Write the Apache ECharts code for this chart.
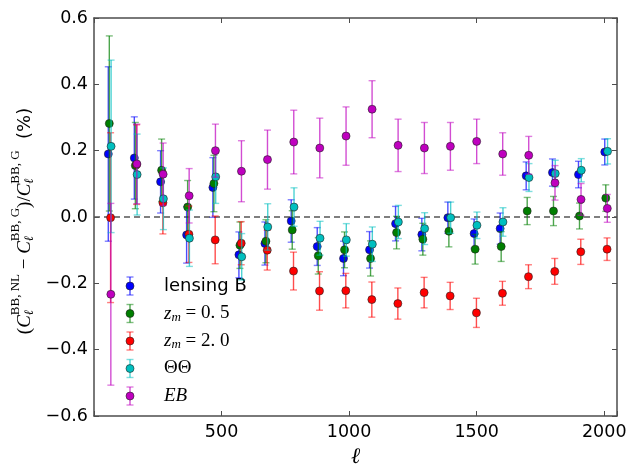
<!DOCTYPE html>
<html><head><meta charset="utf-8">
<script src="https://cdn.jsdelivr.net/npm/echarts@6/dist/echarts.min.js"></script>
<style>html,body{margin:0;padding:0;background:#fff}#c{width:639px;height:473px}</style>
</head><body><div id="c"></div>
<script>
// multipole bin centres (ℓ)
const ell = [56, 158, 261, 363, 466, 568, 670, 773, 875, 978, 1080, 1182, 1285, 1387, 1490, 1592, 1694, 1797, 1899, 2002];

// series values (%) and 1-sigma errors
const lensingB    = [0.190, 0.178, 0.106, -0.054, 0.089, -0.114, -0.080, -0.012, -0.089, -0.125, -0.099, -0.020, -0.053, -0.002, -0.050, -0.035, 0.124, 0.134, 0.128, 0.196];
const lensingBErr = [0.263, 0.124, 0.094, 0.085, 0.090, 0.069, 0.065, 0.064, 0.057, 0.052, 0.055, 0.052, 0.049, 0.047, 0.044, 0.047, 0.042, 0.041, 0.040, 0.039];

const zm05    = [0.282, 0.155, 0.141, 0.030, 0.101, -0.085, -0.073, -0.039, -0.117, -0.099, -0.125, -0.047, -0.067, -0.043, -0.097, -0.089, 0.018, 0.018, 0.003, 0.057];
const zm05Err = [0.264, 0.130, 0.094, 0.080, 0.085, 0.070, 0.065, 0.058, 0.055, 0.054, 0.053, 0.049, 0.048, 0.047, 0.045, 0.045, 0.041, 0.044, 0.039, 0.040];

const zm20    = [-0.002, 0.158, 0.043, -0.052, -0.069, -0.079, -0.100, -0.163, -0.223, -0.222, -0.249, -0.261, -0.228, -0.238, -0.289, -0.230, -0.180, -0.164, -0.105, -0.097];
const zm20Err = [0.256, 0.120, 0.094, 0.085, 0.072, 0.065, 0.060, 0.057, 0.058, 0.052, 0.053, 0.047, 0.046, 0.041, 0.044, 0.036, 0.036, 0.039, 0.038, 0.034];

const thetaTheta    = [0.213, 0.128, 0.055, -0.064, 0.121, -0.120, -0.030, 0.030, -0.064, -0.069, -0.082, -0.015, -0.035, -0.002, -0.025, -0.015, 0.119, 0.131, 0.141, 0.198];
const thetaThetaErr = [0.260, 0.122, 0.093, 0.085, 0.080, 0.070, 0.070, 0.058, 0.051, 0.049, 0.052, 0.050, 0.048, 0.047, 0.040, 0.043, 0.042, 0.040, 0.035, 0.038];

const eb    = [-0.233, 0.160, 0.129, 0.064, 0.200, 0.138, 0.173, 0.226, 0.208, 0.244, 0.325, 0.216, 0.208, 0.213, 0.228, 0.190, 0.186, 0.103, 0.053, 0.026];
const ebErr = [0.274, 0.120, 0.094, 0.082, 0.080, 0.092, 0.089, 0.096, 0.090, 0.088, 0.086, 0.079, 0.077, 0.072, 0.067, 0.064, 0.057, 0.052, 0.048, 0.042];

// small ℓ shifts used in the figure to separate the series
const ellShift = [0, 4, 9, 11, 10];

const xTickValues = [500, 1000, 1500, 2000];
const xTickLabels = ['500', '1000', '1500', '2000'];
const yTickValues = [-0.6, -0.4, -0.2, 0.0, 0.2, 0.4, 0.6];
const yTickLabels = ['\u22120.6', '\u22120.4', '\u22120.2', '0.0', '0.2', '0.4', '0.6'];

const SERIF = '"Liberation Serif", "DejaVu Serif", serif';
const SANS = '"DejaVu Sans", sans-serif';

const defs = [
  {name: 'lensing B', vals: lensingB, errs: lensingBErr, color: '#0000ff',
   label: [{t: 'lensing B', font: '18px ' + SANS}]},
  {name: 'z_m = 0.5', vals: zm05, errs: zm05Err, color: '#007f00',
   label: [{t: 'z', font: 'italic 19px ' + SERIF}, {t: 'm', font: 'italic 13px ' + SERIF, dy: 4}, {t: ' = 0. 5', font: '19px ' + SERIF}]},
  {name: 'z_m = 2.0', vals: zm20, errs: zm20Err, color: '#ff0000',
   label: [{t: 'z', font: 'italic 19px ' + SERIF}, {t: 'm', font: 'italic 13px ' + SERIF, dy: 4}, {t: ' = 2. 0', font: '19px ' + SERIF}]},
  {name: 'ΘΘ', vals: thetaTheta, errs: thetaThetaErr, color: '#00bfbf',
   label: [{t: 'ΘΘ', font: '19px ' + SERIF}]},
  {name: 'EB', vals: eb, errs: ebErr, color: '#bf00bf',
   label: [{t: 'EB', font: 'italic 19px ' + SERIF}]}
];

const mctx = document.createElement('canvas').getContext('2d');
function tw(text, font) { mctx.font = font; return mctx.measureText(text).width; }
function layout(pieces, color) {
  let x = 0; const children = [];
  for (const p of pieces) {
    const list = p.stack ? p.stack : [p];
    let w = 0;
    for (const s of list) {
      children.push({type: 'text', x: x, y: s.dy || 0, silent: true,
        style: {text: s.t, font: s.font, fill: color || '#000', align: 'left', verticalAlign: 'middle'}});
      w = Math.max(w, tw(s.t, s.font));
    }
    x += w;
  }
  return {children, width: x};
}

function errRender(color) {
  return function (params, api) {
    const x = api.value(0), y = api.value(1), e = api.value(2);
    const p = api.coord([x, y]);
    const t = api.coord([x, y + e])[1], b = api.coord([x, y - e])[1];
    const cw = 3.5;
    return {type: 'group', children: [
      {type: 'line', shape: {x1: p[0], y1: t, x2: p[0], y2: b}, style: {stroke: color, lineWidth: 1.4, opacity: 0.7}},
      {type: 'line', shape: {x1: p[0] - cw, y1: t, x2: p[0] + cw, y2: t}, style: {stroke: color, lineWidth: 1.4, opacity: 0.5}},
      {type: 'line', shape: {x1: p[0] - cw, y1: b, x2: p[0] + cw, y2: b}, style: {stroke: color, lineWidth: 1.4, opacity: 0.5}},
      {type: 'circle', shape: {cx: p[0], cy: p[1], r: 4}, style: {fill: color, stroke: '#222', lineWidth: 0.6}}
    ]};
  };
}

const series = [{
  type: 'line', data: [[0, 0], [2050, 0]], symbol: 'none', silent: true,
  lineStyle: {color: '#555', width: 1.5, type: [6, 4]}, z: 1
}];
defs.forEach((d, i) => {
  series.push({
    type: 'custom', name: d.name, clip: false, z: 2,
    data: ell.map((l, k) => [l + ellShift[i], d.vals[k], d.errs[k]]),
    renderItem: errRender(d.color)
  });
});

// legend built from the series definitions
const graphics = [];
const legX = 130, legY0 = 286, legStep = 27.5, textX = 164;
defs.forEach((d, i) => {
  const y = legY0 + i * legStep;
  graphics.push({type: 'group', x: legX, y: y, silent: true, children: [
    {type: 'line', shape: {x1: 0, y1: -9, x2: 0, y2: 9}, style: {stroke: d.color, lineWidth: 1.4, opacity: 0.7}},
    {type: 'line', shape: {x1: -3.5, y1: -9, x2: 3.5, y2: -9}, style: {stroke: d.color, lineWidth: 1.4, opacity: 0.5}},
    {type: 'line', shape: {x1: -3.5, y1: 9, x2: 3.5, y2: 9}, style: {stroke: d.color, lineWidth: 1.4, opacity: 0.5}},
    {type: 'circle', shape: {cx: 0, cy: 0, r: 4}, style: {fill: d.color, stroke: '#222', lineWidth: 0.6}}
  ]});
  const lay = layout(d.label);
  graphics.push({type: 'group', x: textX, y: y, silent: true, children: lay.children});
});

// y-axis title
const big = 'italic 19px ' + SERIF, up = '19px ' + SERIF, sup = '13px ' + SERIF, sub = 'italic 13px "DejaVu Serif", serif';
const ylab = layout([
  {t: '(', font: up},
  {t: 'C', font: big},
  {stack: [{t: 'BB, NL', font: sup, dy: -9}, {t: 'ℓ', font: sub, dy: 5}]},
  {t: ' \u2212 ', font: up},
  {t: 'C', font: big},
  {stack: [{t: 'BB, G', font: sup, dy: -9}, {t: 'ℓ', font: sub, dy: 5}]},
  {t: ')/', font: up},
  {t: 'C', font: big},
  {stack: [{t: 'BB, G', font: sup, dy: -9}, {t: 'ℓ', font: sub, dy: 5}]},
  {t: '  (%)', font: '18px ' + SANS}
]);
ylab.children.forEach(c => { c.x -= ylab.width / 2; });
graphics.push({type: 'group', x: 25, y: 221, rotation: Math.PI / 2, silent: true, children: ylab.children});

const axisLineStyle = {color: '#4d4d4d', width: 1.5};
const tickStyle = {show: true, inside: true, length: 5, lineStyle: {color: '#4d4d4d', width: 1}};
const labelFont = {fontFamily: SANS, fontSize: 17.5, color: '#000'};

function xLab(v) { const k = xTickValues.indexOf(v); return k >= 0 ? xTickLabels[k] : ''; }
function yLab(v) {
  let k = -1;
  yTickValues.forEach((t, i) => { if (Math.abs(t - v) < 1e-6) k = i; });
  return k >= 0 ? yTickLabels[k] : '';
}

const chart = echarts.init(document.getElementById('c'), null, {renderer: 'canvas'});
chart.setOption({
  animation: false,
  backgroundColor: '#fff',
  grid: {left: 94, right: 22, top: 18, bottom: 51, containLabel: false},
  xAxis: [
    {type: 'value', min: 0, max: 2050, interval: 500, position: 'bottom',
     axisLine: {show: true, onZero: false, lineStyle: axisLineStyle},
     axisTick: tickStyle, splitLine: {show: false},
     axisLabel: Object.assign({formatter: xLab, margin: 7}, labelFont),
     name: 'ℓ', nameLocation: 'middle', nameGap: 30,
     nameTextStyle: {fontFamily: '"DejaVu Serif", serif', fontStyle: 'italic', fontSize: 22, color: '#000'}},
    {type: 'value', min: 0, max: 2050, interval: 500, position: 'top',
     axisLine: {show: true, onZero: false, lineStyle: axisLineStyle},
     axisTick: tickStyle, axisLabel: {show: false}, splitLine: {show: false}}
  ],
  yAxis: [
    {type: 'value', min: -0.6, max: 0.6, interval: 0.2, position: 'left',
     axisLine: {show: true, onZero: false, lineStyle: axisLineStyle},
     axisTick: tickStyle, splitLine: {show: false},
     axisLabel: Object.assign({formatter: yLab, margin: 6}, labelFont)},
    {type: 'value', min: -0.6, max: 0.6, interval: 0.2, position: 'right',
     axisLine: {show: true, onZero: false, lineStyle: axisLineStyle},
     axisTick: tickStyle, axisLabel: {show: false}, splitLine: {show: false}}
  ],
  series: series,
  graphic: graphics
});
</script>
</body></html>
